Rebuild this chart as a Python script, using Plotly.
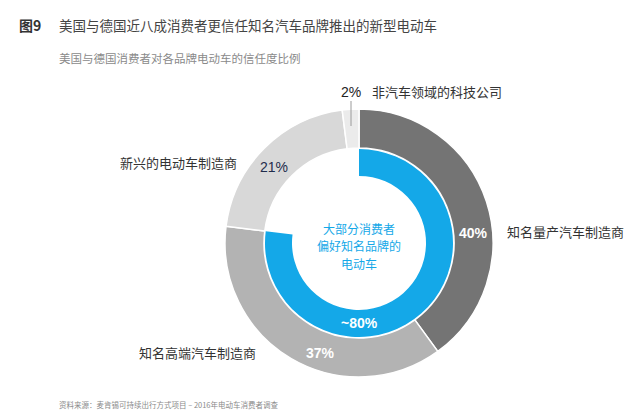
import plotly.graph_objects as go

W, H = 640, 413
CJK = "Noto Sans CJK SC"
LAT = "Liberation Sans, Arial"

# Data
categories = ["知名量产汽车制造商", "知名高端汽车制造商", "新兴的电动车制造商", "非汽车领域的科技公司"]
shares = [40, 37, 21, 2]
share_labels = ["40%", "37%", "21%", "2%"]
brand_pref = [77, 23]
brand_pref_label = "~80%"
center_lines = ["大部分消费者", "偏好知名品牌的", "电动车"]

colors = ["#747474", "#b3b3b3", "#d8d8d8", "#ebebeb"]
blue = "#14a8e8"

cx, cy = 351, 235
R_out, R_in = 134, 95
B_out, B_in = 94, 67


def dom(r):
    return dict(x=[(cx - r) / W, (cx + r) / W], y=[1 - (cy + r) / H, 1 - (cy - r) / H])


fig = go.Figure()
fig.add_trace(go.Pie(
    values=shares, labels=categories, sort=False, direction="clockwise",
    hole=R_in / R_out, domain=dom(R_out), textinfo="none", hoverinfo="label+percent",
    marker=dict(colors=colors, line=dict(color="white", width=1.5)), showlegend=False,
))
fig.add_trace(go.Pie(
    values=brand_pref, labels=["知名品牌", "其他"], sort=False, direction="clockwise",
    hole=B_in / B_out, domain=dom(B_out), textinfo="none",
    marker=dict(colors=[blue, "rgba(0,0,0,0)"], line=dict(color="white", width=0)), showlegend=False,
))


def ann(px, py, text, size, color, family=CJK, xanchor="center", bold=False):
    if bold:
        text = "<b>" + text + "</b>"
    fig.add_annotation(x=px / W, y=1 - py / H, xref="paper", yref="paper", text=text,
                       showarrow=False, xanchor=xanchor, yanchor="middle",
                       font=dict(family=family, size=size, color=color))


# titles
ann(9, 17, "图9", 14, "#333333", xanchor="left", bold=True)
ann(49, 17, "美国与德国近八成消费者更信任知名汽车品牌推出的新型电动车", 13.5, "#444444", xanchor="left")
ann(49, 50, "美国与德国消费者对各品牌电动车的信任度比例", 11.5, "#8a8a8a", xanchor="left")
ann(49, 396, "资料来源：麦肯锡可持续出行方式项目 – 2016年电动车消费者调查", 7.5, "#8a8a8a", xanchor="left")

# percentage labels
ann(465, 225, share_labels[0], 14, "white", family=LAT, bold=True)
ann(312, 345, share_labels[1], 14, "white", family=LAT, bold=True)
ann(266, 159, share_labels[2], 14, "#1f2c4c", family=LAT)
ann(343, 84, share_labels[3], 14, "#222222", family=LAT)
ann(351, 315, brand_pref_label, 14, "white", family=LAT, bold=True)

# category labels
ann(497, 223, categories[0], 13, "#333333", xanchor="left")
ann(250, 344, categories[1], 13, "#333333", xanchor="right")
ann(231, 155, categories[2], 13, "#333333", xanchor="right")
ann(362, 83, categories[3], 13, "#333333", xanchor="left")

# center text
for i, line in enumerate(center_lines):
    ann(351, 220 + 17.5 * i, line, 12, blue)

fig.add_shape(type="line", xref="paper", yref="paper",
              x0=343 / W, x1=343 / W, y0=1 - 93 / H, y1=1 - 118 / H,
              line=dict(color="#9a9a9a", width=1))

fig.update_layout(width=W, height=H, margin=dict(l=0, r=0, t=0, b=0),
                  paper_bgcolor="white", plot_bgcolor="white")
fig.write_html("out.html")
